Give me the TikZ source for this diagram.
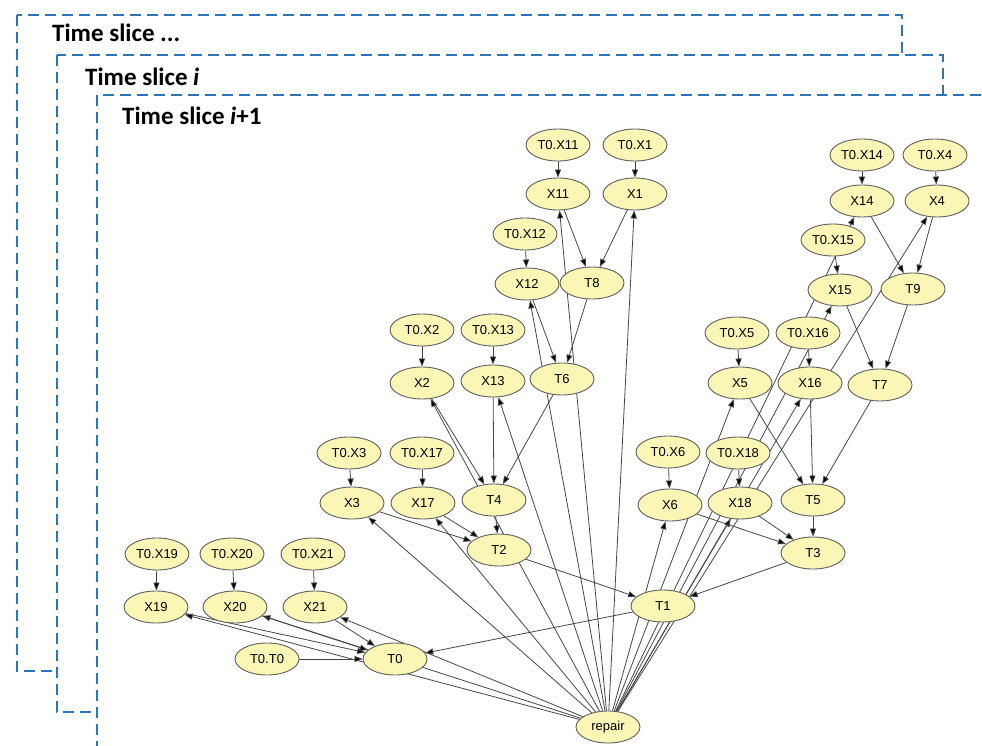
\documentclass[tikz,border=0pt]{standalone}
\usepackage{fontspec}
\setmainfont{Liberation Sans}
\newfontfamily\titlefont{Carlito}
\usetikzlibrary{arrows.meta,shapes.geometric}
\pgfdeclarelayer{frames}
\pgfdeclarelayer{edges}
\pgfsetlayers{frames,edges,main}
\definecolor{frameblue}{RGB}{46,117,182}
\definecolor{nodefill}{RGB}{250,247,182}
\definecolor{nodeline}{RGB}{95,95,95}
\definecolor{edgecol}{RGB}{70,70,70}
\begin{document}
\begin{tikzpicture}[x=1pt,y=-1pt,
  vnode/.style={ellipse,draw=nodeline,fill=nodefill,line width=0.9pt,minimum width=64pt,minimum height=32pt,inner sep=0pt,font=\fontsize{13}{13}\selectfont},
  conn/.style={draw=edgecol,line width=0.8pt,-{Triangle[length=8pt,width=6pt,fill=black]}},
  sliceframe/.style={draw=frameblue,fill=white,line width=1.8pt,dash pattern=on 11pt off 6pt},
  slicetitle/.style={anchor=base west,inner sep=0pt,font=\titlefont\bfseries\fontsize{25}{25}\selectfont}]
\useasboundingbox (0,0) rectangle (982,746);

\begin{pgfonlayer}{frames}
\draw[sliceframe] (17,15) rectangle (902,671);
\node[slicetitle] (ts1) at (52,42) {Time slice ...};
\draw[sliceframe] (57,55) rectangle (943,712);
\node[slicetitle] (ts2) at (85,86) {Time slice \textit{i}};
\draw[sliceframe] (97,95) rectangle (1010,780);
\node[slicetitle] (ts3) at (122,125) {Time slice \textit{i}+1};
\end{pgfonlayer}

% nodes
\node[vnode] (t0x11) at (558,145) {T0.X11};
\node[vnode] (t0x1)  at (635,145) {T0.X1};
\node[vnode] (x11)   at (558,194) {X11};
\node[vnode] (x1)    at (635,194) {X1};
\node[vnode] (t0x12) at (525,234) {T0.X12};
\node[vnode] (x12)   at (527,284) {X12};
\node[vnode] (t8)    at (592,283) {T8};
\node[vnode] (t0x2)  at (422,330) {T0.X2};
\node[vnode] (t0x13) at (493,330) {T0.X13};
\node[vnode] (x2)    at (422,383) {X2};
\node[vnode] (x13)   at (493,381) {X13};
\node[vnode] (t6)    at (562,379) {T6};
\node[vnode] (t0x3)  at (349,453) {T0.X3};
\node[vnode] (t0x17) at (422,453) {T0.X17};
\node[vnode] (x3)    at (352,503) {X3};
\node[vnode] (x17)   at (423,503) {X17};
\node[vnode] (t4)    at (494,500) {T4};
\node[vnode] (t2)    at (499,550) {T2};
\node[vnode] (t0x19) at (157,554) {T0.X19};
\node[vnode] (t0x20) at (232,554) {T0.X20};
\node[vnode] (t0x21) at (313,554) {T0.X21};
\node[vnode] (x19)   at (156,607) {X19};
\node[vnode] (x20)   at (235,607) {X20};
\node[vnode] (x21)   at (315,607) {X21};
\node[vnode] (t0t0)  at (267,659) {T0.T0};
\node[vnode] (t0)    at (395,659) {T0};
\node[vnode] (repair) at (608,727) {repair};
\node[vnode] (t1)    at (663,606) {T1};
\node[vnode] (t0x14) at (862,155) {T0.X14};
\node[vnode] (t0x4)  at (935,155) {T0.X4};
\node[vnode] (x14)   at (862,201) {X14};
\node[vnode] (x4)    at (937,201) {X4};
\node[vnode] (t0x15) at (833,240) {T0.X15};
\node[vnode] (x15)   at (840,290) {X15};
\node[vnode] (t9)    at (913,289) {T9};
\node[vnode] (t0x5)  at (737,333) {T0.X5};
\node[vnode] (t0x16) at (808,333) {T0.X16};
\node[vnode] (x5)    at (740,383) {X5};
\node[vnode] (x16)   at (810,383) {X16};
\node[vnode] (t7)    at (880,385) {T7};
\node[vnode] (t0x6)  at (668,452) {T0.X6};
\node[vnode] (t0x18) at (738,453) {T0.X18};
\node[vnode] (x6)    at (670,505) {X6};
\node[vnode] (x18)   at (740,503) {X18};
\node[vnode] (t5)    at (813,500) {T5};
\node[vnode] (t3)    at (813,553) {T3};

\begin{pgfonlayer}{edges}
\foreach \i in {1,2,3,4,5,6,11,12,13,14,15,16,17,18,19,20,21} {
  \draw[conn] (t0x\i) -- (x\i);
  \draw[conn] (repair) -- (x\i);
}
\draw[conn] (t0t0) -- (t0);
\draw[conn] (x11) -- (t8);
\draw[conn] (x1) -- (t8);
\draw[conn] (x14) -- (t9);
\draw[conn] (x4) -- (t9);
\draw[conn] (x12) -- (t6);
\draw[conn] (t8) -- (t6);
\draw[conn] (x15) -- (t7);
\draw[conn] (t9) -- (t7);
\draw[conn] (x2) -- (t4);
\draw[conn] (x13) -- (t4);
\draw[conn] (t6) -- (t4);
\draw[conn] (x5) -- (t5);
\draw[conn] (x16) -- (t5);
\draw[conn] (t7) -- (t5);
\draw[conn] (x3) -- (t2);
\draw[conn] (x17) -- (t2);
\draw[conn] (t4) -- (t2);
\draw[conn] (x6) -- (t3);
\draw[conn] (x18) -- (t3);
\draw[conn] (t5) -- (t3);
\draw[conn] (t2) -- (t1);
\draw[conn] (t3) -- (t1);
\draw[conn] (x19) -- (t0);
\draw[conn] (x20) -- (t0);
\draw[conn] (x21) -- (t0);
\draw[conn] (t1) -- (t0);
\end{pgfonlayer}
\end{tikzpicture}
\end{document}
